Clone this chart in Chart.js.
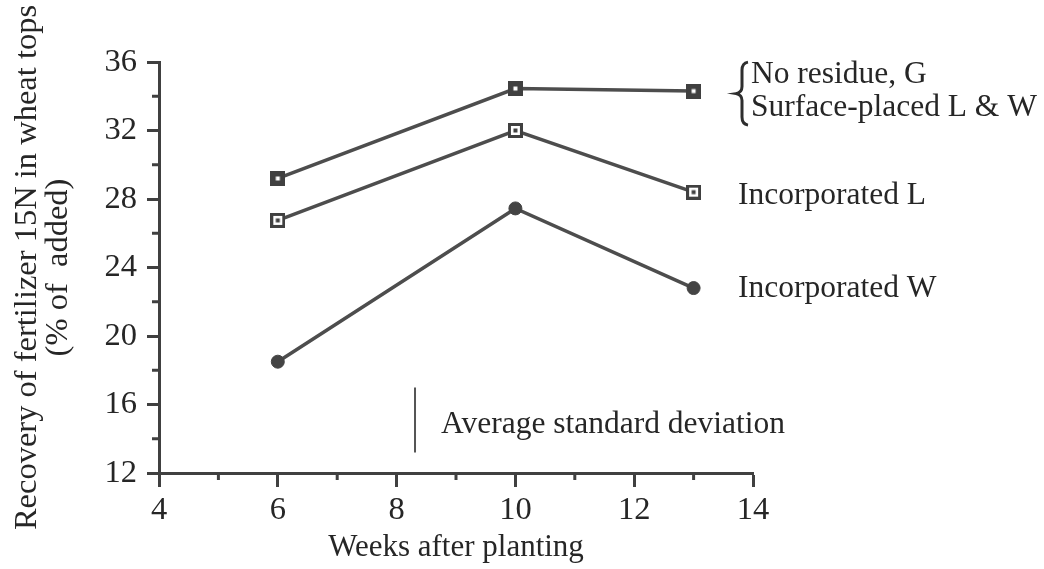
<!DOCTYPE html>
<html>
<head>
<meta charset="utf-8">
<script src="https://cdn.jsdelivr.net/npm/chart.js@4.4.1/dist/chart.umd.min.js"></script>
<style>
  html, body { margin: 0; padding: 0; background: #fff; }
  #wrap { width: 1044px; height: 569px; position: relative; }
</style>
</head>
<body>
<div id="wrap"><canvas id="c"></canvas></div>
<script>
// ---- data ----
const weeks = [6, 10, 13];
const noResidueSurface = [29.2, 34.45, 34.3];
const incorporatedL = [26.75, 32.0, 28.4];
const incorporatedW = [18.5, 27.45, 22.8];
const sdWeeks = [8.31, 8.31];
const sdValues = [17.0, 13.2];
const xRange = [4, 14];
const yRange = [12, 36];
const xMajorStep = 2;
const yMajorStep = 4;
const labelTop = ['No residue, G', 'Surface-placed L & W'];
const labelMid = 'Incorporated L';
const labelBot = 'Incorporated W';
const sdLabel = 'Average standard deviation';
const xTitle = 'Weeks after planting';
const yTitle = ['Recovery of fertilizer 15N in wheat tops', '(% of  added)'];

const INK = '#262626';
const LINE = '#4d4d4d';

// pick an installed serif font and size it so that it matches the reference text widths
function pickFont() {
  const cands = ['Liberation Serif', 'Tinos', 'Times New Roman', 'Noto Serif', 'DejaVu Serif'];
  const m = document.createElement('canvas').getContext('2d');
  const sample = 'abcdefghijklmnopqrstuvwxyzW 0123';
  for (const f of cands) {
    m.font = '40px monospace'; const w0 = m.measureText(sample).width;
    m.font = '40px "' + f + '", monospace'; const w1 = m.measureText(sample).width;
    if (Math.abs(w1 - w0) > 0.5) return '"' + f + '", serif';
  }
  return 'serif';
}
const FONT = pickFont();
const SCALE = (function () {
  const m = document.createElement('canvas').getContext('2d');
  m.font = '31px ' + FONT;
  return 344 / m.measureText(sdLabel).width; // reference width of this text
})();
const fs = n => Math.round(n * SCALE * 10) / 10;

function marker(kind) {
  const s = 15, c = document.createElement('canvas');
  c.width = s; c.height = s;
  const g = c.getContext('2d');
  g.fillStyle = '#404040';
  g.fillRect(0, 0, s, s);
  if (kind === 'dot') {
    g.fillStyle = '#fff';
    g.fillRect(5.5, 5.5, 4, 4);
  } else {
    g.fillStyle = '#fff';
    g.fillRect(3, 3, 9, 9);
    g.fillStyle = '#404040';
    g.fillRect(5.5, 5.5, 4, 4);
  }
  return c;
}

function pts(ys) { return weeks.map((w, i) => ({ x: w, y: ys[i] })); }

const annot = {
  id: 'annot',
  afterDatasetsDraw(chart) {
    const ctx = chart.ctx;
    const xs = chart.scales.x, ys = chart.scales.y;
    ctx.save();
    // minor ticks
    ctx.strokeStyle = '#404040';
    ctx.lineWidth = 3;
    for (let v = xRange[0] + 1; v < xRange[1]; v += xMajorStep) {
      const px = xs.getPixelForValue(v);
      ctx.beginPath(); ctx.moveTo(px, ys.bottom); ctx.lineTo(px, ys.bottom + 7); ctx.stroke();
    }
    for (let v = yRange[0] + 2; v < yRange[1]; v += yMajorStep) {
      const py = ys.getPixelForValue(v);
      ctx.beginPath(); ctx.moveTo(xs.left, py); ctx.lineTo(xs.left - 7, py); ctx.stroke();
    }
    // labels on the right
    ctx.fillStyle = INK;
    ctx.font = fs(31) + 'px ' + FONT;
    ctx.textBaseline = 'middle';
    ctx.textAlign = 'left';
    const last = weeks.length - 1;
    const yTop = ys.getPixelForValue(noResidueSurface[last]);
    const yMid = ys.getPixelForValue(incorporatedL[last]);
    const yBot = ys.getPixelForValue(incorporatedW[last]);
    const xLab = xs.right - 15;
    ctx.fillText(labelTop[0], xLab + 13, yTop - 16);
    ctx.fillText(labelTop[1], xLab + 13, yTop + 17);
    ctx.fillText(labelMid, xLab, yMid + 4);
    ctx.fillText(labelBot, xLab, yBot + 1);
    // brace
    const bx = xLab + 1, by0 = yTop - 29, by1 = yTop + 34, bm = (by0 + by1) / 2;
    ctx.strokeStyle = '#2e2e2e';
    ctx.lineWidth = 3;
    ctx.beginPath();
    ctx.moveTo(bx + 9, by0);
    ctx.quadraticCurveTo(bx + 3, by0 + 1, bx + 3, by0 + 8);
    ctx.lineTo(bx + 3, bm - 7);
    ctx.quadraticCurveTo(bx + 3, bm - 1, bx - 3, bm);
    ctx.quadraticCurveTo(bx + 3, bm + 1, bx + 3, bm + 7);
    ctx.lineTo(bx + 3, by1 - 8);
    ctx.quadraticCurveTo(bx + 3, by1 - 1, bx + 9, by1);
    ctx.stroke();
    // sd label
    const sx = xs.getPixelForValue(sdWeeks[0]);
    const sm = (ys.getPixelForValue(sdValues[0]) + ys.getPixelForValue(sdValues[1])) / 2;
    ctx.fillText(sdLabel, sx + 26, sm + 5);
    ctx.restore();
  }
};

new Chart(document.getElementById('c'), {
  type: 'scatter',
  data: {
    datasets: [
      { data: pts(noResidueSurface), showLine: true, borderColor: LINE, borderWidth: 3.5,
        pointStyle: marker('dot'), pointRadius: 7 },
      { data: pts(incorporatedL), showLine: true, borderColor: LINE, borderWidth: 3.5,
        pointStyle: marker('ring'), pointRadius: 7 },
      { data: pts(incorporatedW), showLine: true, borderColor: LINE, borderWidth: 3.5,
        pointStyle: 'circle', pointRadius: 6.5, backgroundColor: '#444', pointBorderColor: '#444', pointBorderWidth: 1 },
      { data: sdWeeks.map((w, i) => ({ x: w, y: sdValues[i] })), showLine: true,
        borderColor: '#555', borderWidth: 2, pointRadius: 0 }
    ]
  },
  options: {
    responsive: true,
    maintainAspectRatio: false,
    animation: false,
    events: [],
    layout: { padding: { top: 62, right: 291, left: 0, bottom: 0 } },
    plugins: { legend: { display: false }, tooltip: { enabled: false } },
    scales: {
      x: {
        type: 'linear', min: xRange[0], max: xRange[1],
        afterFit(s) { s.height = 96; },
        border: { display: true, color: '#404040', width: 3 },
        grid: { drawOnChartArea: false, drawTicks: true, tickLength: 14, tickWidth: 3, color: '#404040' },
        ticks: { stepSize: xMajorStep, color: INK, font: { family: FONT, size: fs(32) }, padding: 4, maxRotation: 0, autoSkip: false },
        title: { display: true, text: xTitle, color: INK, font: { family: FONT, size: fs(30.5), lineHeight: 1 }, padding: { top: 0, bottom: 6 } }
      },
      y: {
        type: 'linear', min: yRange[0], max: yRange[1],
        afterFit(s) { s.width = 159; },
        border: { display: true, color: '#404040', width: 3 },
        grid: { drawOnChartArea: false, drawTicks: true, tickLength: 12, tickWidth: 3, color: '#404040' },
        ticks: { stepSize: yMajorStep, color: INK, font: { family: FONT, size: fs(32) }, padding: 10, autoSkip: false },
        title: { display: true, text: yTitle, color: INK, font: { family: FONT, size: fs(32), lineHeight: 0.95 }, padding: { top: 12, bottom: 0 } }
      }
    }
  },
  plugins: [annot]
});
</script>
</body>
</html>
